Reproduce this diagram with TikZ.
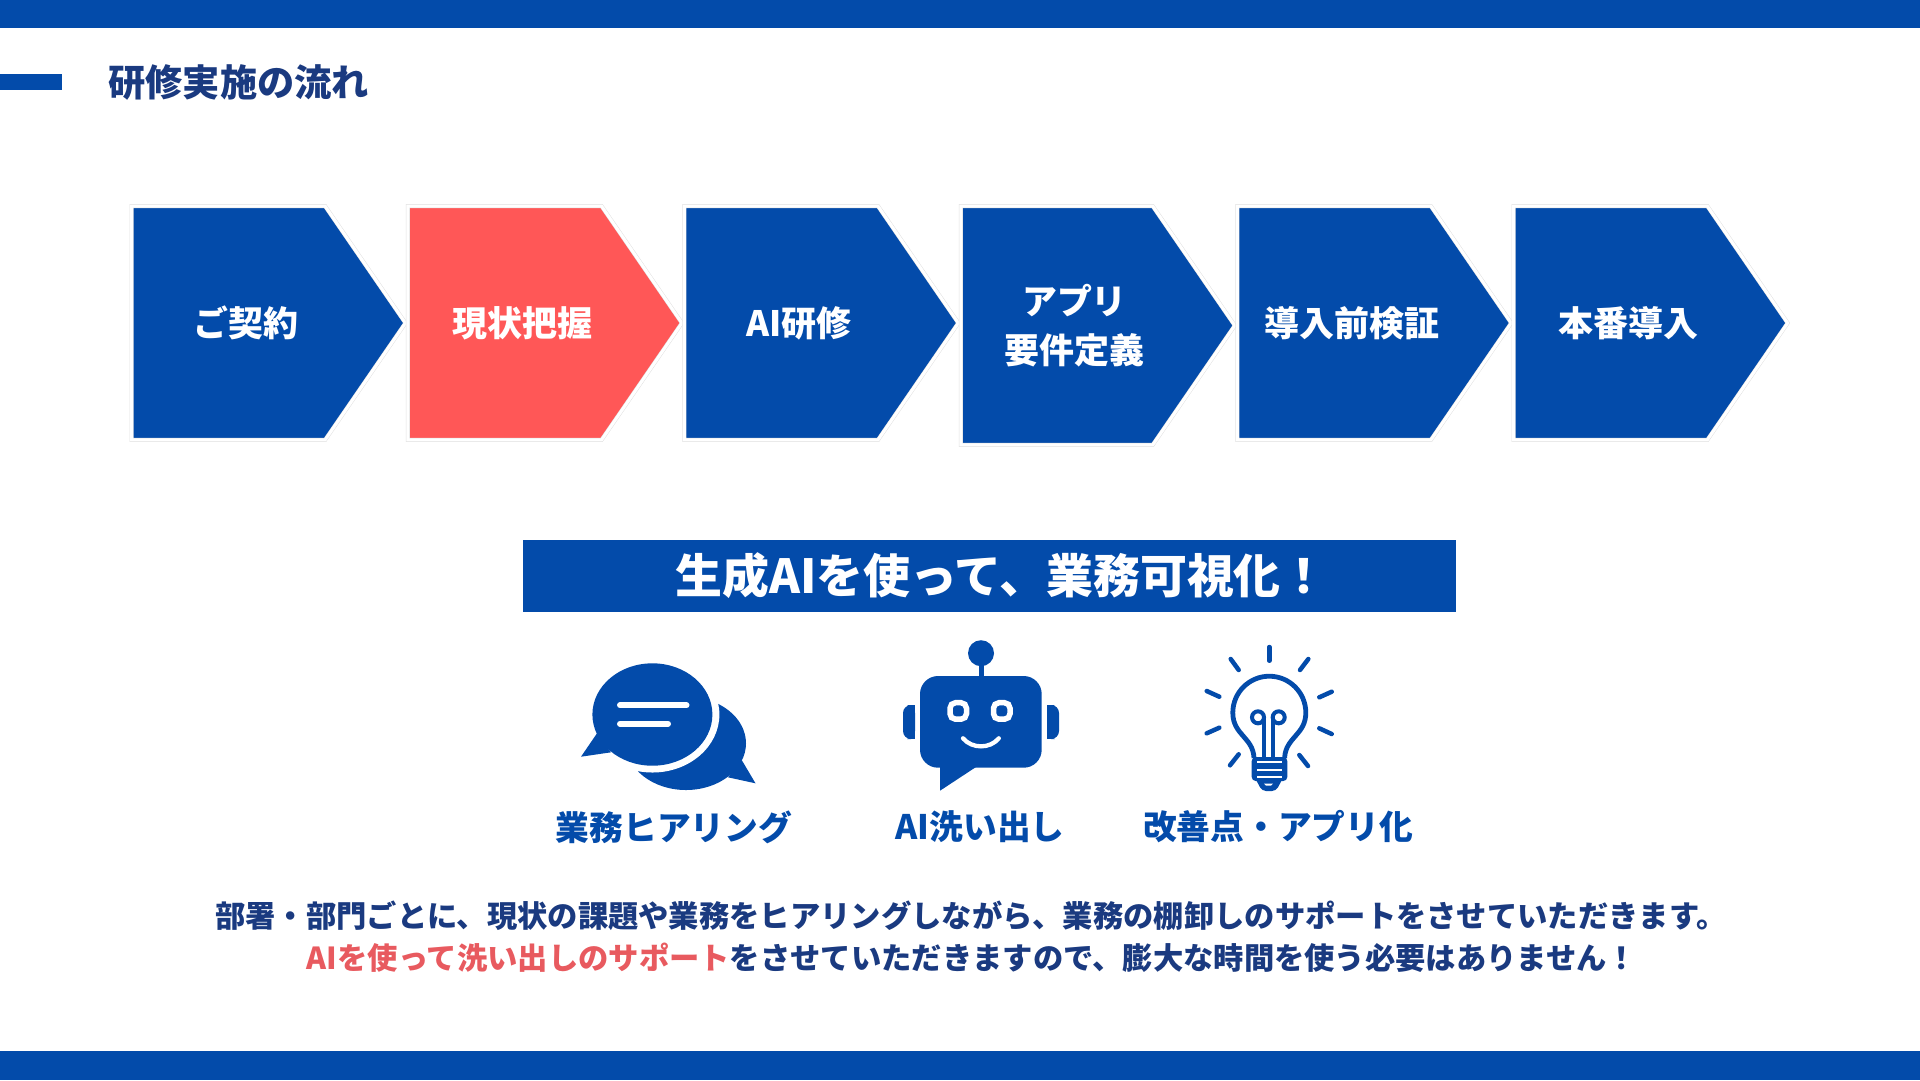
\documentclass[tikz,border=0pt]{standalone}
\usepackage{fontspec}
\setmainfont{Noto Sans CJK JP}
\usepackage{xcolor}
\usetikzlibrary{positioning,calc,shapes.symbols,shapes.geometric}
\definecolor{mainblue}{HTML}{034BAA}
\definecolor{mainred}{HTML}{FF5757}
\definecolor{navytext}{HTML}{1A3A80}
\definecolor{redtext}{HTML}{E85A5F}
\tikzset{
  stepbox/.style={signal, signal to=east, signal pointer angle=111, minimum width=5.48cm, minimum height=4.68cm, fill=mainblue, draw=black!12, double=white, double distance=0.06cm, line width=0.01cm, outer sep=0pt, inner sep=0pt},
  steptext/.style={text=white, font=\bfseries\fontsize{19.9}{28}\selectfont, align=center, xshift=0.355cm},
  icontext/.style={text=mainblue, font=\bfseries\fontsize{19.2}{24}\selectfont},
  bodytext/.style={text=navytext, font=\bfseries\fontsize{17.25}{24}\selectfont},
  ray/.style={draw=mainblue, line width=0.09cm, line cap=round},
  wire/.style={draw=mainblue, line width=0.08cm}
}
\begin{document}
\begin{tikzpicture}[x=0.02cm, y=-0.02cm, node distance=0.05cm]
    \useasboundingbox (0,0) rectangle (1920,1080);
    \fill[mainblue] (0,0) rectangle (1920,28);
    \fill[mainblue] (0,1051) rectangle (1920,1080);
    \fill[mainblue] (0,74) rectangle (62,90);
    \node (title) [text=navytext, font=\bfseries\fontsize{21.2}{24}\selectfont, anchor=west, inner sep=0pt] at (108,82) {研修実施の流れ};

    \node (contract) [stepbox, anchor=west, label={[steptext]center:ご契約}] at (131.5,323) {};
    \node (survey) [stepbox, fill=mainred, right=of contract, label={[steptext]center:現状把握}] {};
    \node (training) [stepbox, right=of survey, label={[steptext]center:AI研修}] {};
    \node (appdef) [stepbox, minimum height=4.78cm, yshift=-0.05cm, right=of training, label={[steptext]center:アプリ\\要件定義}] {};
    \node (verify) [stepbox, yshift=0.05cm, right=of appdef, label={[steptext]center:導入前検証}] {};
    \node (launch) [stepbox, right=of verify, label={[steptext]center:本番導入}] {};

    \node (banner) [fill=mainblue, minimum width=18.66cm, minimum height=1.44cm, inner sep=0pt, text=white, font=\bfseries\fontsize{26.7}{30}\selectfont] at (989.5,576) {\hspace*{0.48cm}生成AIを使って、業務可視化！};

    \fill[mainblue] (686,743.3) ellipse (60 and 46.7);
    \fill[mainblue] (741.7,760) -- (755.5,783.3) -- (728,777.3) -- cycle;
    \fill[white] (652.4,714.5) ellipse (67 and 58);
    \fill[mainblue] (652.4,714.5) ellipse (60 and 51.2);
    \fill[mainblue] (597,733.3) -- (581,756.7) -- (611,752.3) -- cycle;
    \draw[white, line width=0.12cm, line cap=round] (620,705.3) -- (686.5,705.3);
    \draw[white, line width=0.12cm, line cap=round] (620,723.7) -- (668,723.7);

    \fill[mainblue] (981,653.2) circle (13);
    \fill[mainblue] (978.5,664) rectangle (983.5,678);
    \fill[mainblue, rounded corners=0.36cm] (920,676) rectangle (1041.7,767.7);
    \fill[mainblue] (940,765) -- (940,790.7) -- (976,767) -- cycle;
    \fill[mainblue, rounded corners=0.16cm] (915,705) -- (903,705) -- (903,739) -- (915,739) -- cycle;
    \fill[mainblue] (909,705) rectangle (915,739);
    \fill[mainblue, rounded corners=0.16cm] (1047,705) -- (1059,705) -- (1059,739) -- (1047,739) -- cycle;
    \fill[mainblue] (1047,705) rectangle (1053,739);
    \draw[white, line width=0.11cm, rounded corners=0.11cm] (950,702.7) rectangle (966.5,719.2);
    \draw[white, line width=0.11cm, rounded corners=0.11cm] (993.5,702.7) rectangle (1010,719.2);
    \draw[white, line width=0.086cm, line cap=round] (963,738.3) .. controls (972,749) and (990,749) .. (998.8,738.3);

    \draw[ray] (1269.3,647) -- (1269.3,660.7);
    \draw[ray] (1230.7,659) -- (1238.7,670);
    \draw[ray] (1308.3,659) -- (1300,670);
    \draw[ray] (1206.7,691) -- (1219.3,696.7);
    \draw[ray] (1331.7,691.7) -- (1319.3,697.3);
    \draw[ray] (1206.7,733.3) -- (1219.3,727.7);
    \draw[ray] (1331.7,734) -- (1319.3,728.3);
    \draw[ray] (1230,765.3) -- (1238.7,754.3);
    \draw[ray] (1308,766) -- (1299.3,755);
    \draw[mainblue, line width=0.096cm] (1254,758) .. controls (1253,737) and (1232.8,735) .. (1232.8,712.7) arc[start angle=180, end angle=0, x radius=36.5, y radius=-36.5] .. controls (1305.8,735) and (1285.6,737) .. (1284.6,758);
    \draw[wire] (1258,717.3) circle (6);
    \draw[wire] (1278.7,717.3) circle (6);
    \draw[wire] (1263.7,719) -- (1263.7,758);
    \draw[wire] (1273.3,719) -- (1273.3,758);
    \fill[mainblue, rounded corners=0.08cm] (1251.7,757) rectangle (1287.3,781);
    \fill[mainblue, rounded corners=0.08cm] (1254,776) -- (1284,776) -- (1276,791) -- (1262,791) -- cycle;
    \fill[white] (1256.7,761.3) rectangle (1282.3,763.3);
    \fill[white] (1256.7,769) rectangle (1282.3,771);
    \fill[white] (1256.7,776.3) rectangle (1282.3,778.3);
    \fill[white] (1264,783.5) -- (1273,783.5) -- (1271,785.5) -- (1266,785.5) -- cycle;

    \node (hearing) [icontext] at (674,827) {業務ヒアリング};
    \node (extract) [icontext] at (980,827) {AI洗い出し};
    \node (improve) [icontext] at (1278,827) {改善点・アプリ化};

    \node (body1) [bodytext] at (971,916) {部署・部門ごとに、現状の課題や業務をヒアリングしながら、業務の棚卸しのサポートをさせていただきます。};
    \node (body2) [bodytext] at (972,958) {\textcolor{redtext}{AIを使って洗い出しのサポート}をさせていただきますので、膨大な時間を使う必要はありません！};
\end{tikzpicture}
\end{document}
